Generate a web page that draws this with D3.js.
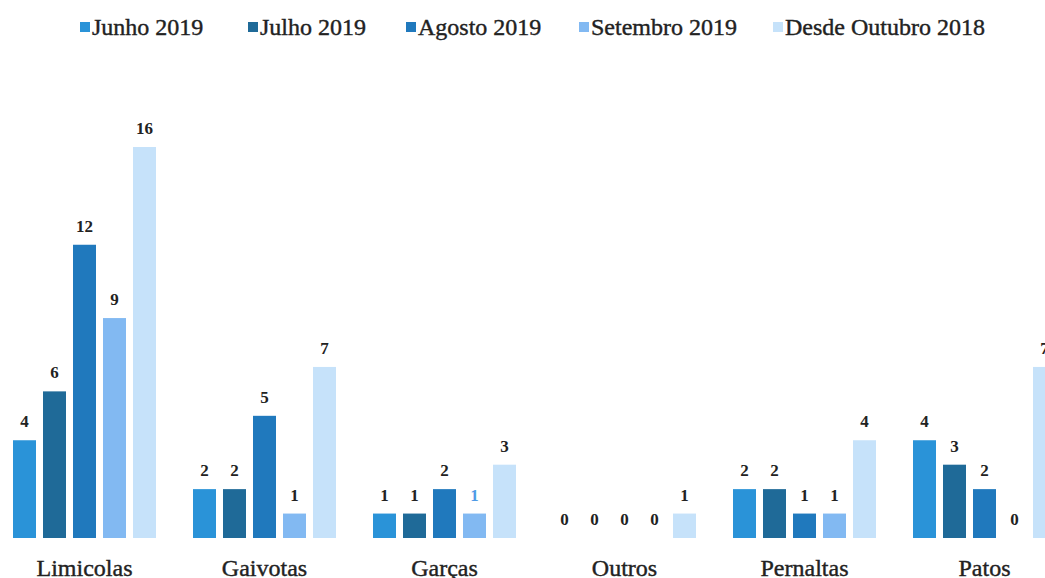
<!DOCTYPE html>
<html>
  <head>
    <meta charset='utf-8'>
    <style>
      body { margin: 0; background: #fff; }
      text { font-family: "Liberation Serif", "Times New Roman", serif; fill: #222; }
    </style>
  </head>
  <body>
    <div id="chart"></div>
    <script src="https://cdnjs.cloudflare.com/ajax/libs/d3/7.8.5/d3.min.js"></script>
    <script type="text/javascript">

      // --------------------------- data ---------------------------
      var categories = ["Limicolas", "Gaivotas", "Garças", "Outros", "Pernaltas", "Patos"];
      var series = ["Junho 2019", "Julho 2019", "Agosto 2019", "Setembro 2019", "Desde Outubro 2018"];

      var junho    = [4, 2, 1, 0, 2, 4];
      var julho    = [6, 2, 1, 0, 2, 3];
      var agosto   = [12, 5, 2, 0, 1, 2];
      var setembro = [9, 1, 1, 0, 1, 0];
      var desde    = [16, 7, 3, 1, 4, 7];

      var values = [junho, julho, agosto, setembro, desde];
      var colors = ["#2a93d8", "#1f6a98", "#2079bd", "#82b9f2", "#c6e2fa"];

      var width = 1045, height = 578;

      var data = [];
      categories.forEach(function(c, i){
        series.forEach(function(s, j){
          data.push({cat: c, ser: s, idx: j, value: values[j][i]});
        });
      });

      // scales
      var x0 = d3.scaleBand().domain(categories)
          .range([-5.5, 1074.5]).paddingInner(1/6).paddingOuter(1/12);
      var x1 = d3.scaleBand().domain(series)
          .range([0, x0.bandwidth()]).paddingInner(7/30).paddingOuter(7/60);
      var y = d3.scaleLinear().domain([0, 16]).range([538, 147]);

      var svg = d3.select("#chart").append("svg")
          .attr("width", width).attr("height", height);

      var g = svg.append("g");

      g.selectAll(".bar")
        .data(data).enter()
        .append("rect")
          .attr("class", "bar")
          .attr("x", function(d){ return x0(d.cat) + x1(d.ser); })
          .attr("y", function(d){ return y(d.value); })
          .attr("width", x1.bandwidth())
          .attr("height", function(d){ return y(0) - y(d.value); })
          .attr("fill", function(d){ return colors[d.idx]; });

      g.selectAll(".val")
        .data(data).enter()
        .append("text")
          .attr("class", "val")
          .attr("x", function(d){ return x0(d.cat) + x1(d.ser) + x1.bandwidth()/2; })
          .attr("y", function(d){ return y(d.value) - 13; })
          .attr("text-anchor", "middle")
          .style("font-size", "17px")
          .style("font-weight", "bold")
          .style("fill", function(d){
            // the scanned original shows this one label in blue
            return (d.cat == "Garças" && d.idx == 3) ? "#4f9be6" : "#222";
          })
          .text(function(d){ return d.value; });

      // category labels (no axis line in the original)
      var xAxis = d3.axisBottom(x0).tickSize(0).tickPadding(0);
      var ax = svg.append("g")
          .attr("transform", "translate(0,556)")
          .call(xAxis);
      ax.select(".domain").remove();
      ax.selectAll("text")
          .attr("dy", "0.85em")
          .style("font-size", "24px")
          .style("font-family", "'Liberation Serif', serif")
          .style("fill", "#222")
          .style("stroke", "#222")
          .style("stroke-width", "0.4px");

      // legend
      var legendX = [80, 248, 406, 579, 773];
      var leg = svg.append("g").selectAll(".leg")
        .data(series).enter()
        .append("g")
          .attr("transform", function(d, i){ return "translate(" + legendX[i] + ",27)"; });

      leg.append("rect")
          .attr("x", 0).attr("y", -5)
          .attr("width", 10).attr("height", 10)
          .attr("fill", function(d, i){ return colors[i]; });

      leg.append("text")
          .attr("x", 12).attr("y", 8)
          .style("font-size", "24px")
          .style("stroke", "#222")
          .style("stroke-width", "0.4px")
          .text(function(d){ return d; });

  </script>
  </body>
</html>
